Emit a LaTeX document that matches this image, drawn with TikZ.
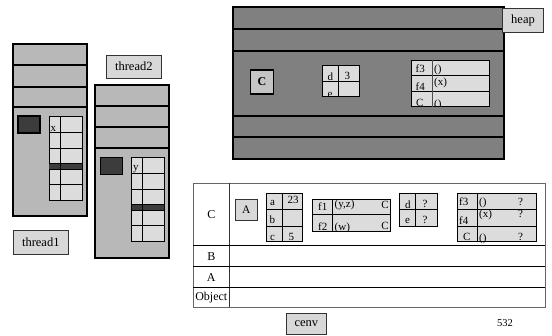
\documentclass[tikz,border=0pt]{standalone}
\usepackage{fontspec}
\setmainfont{Liberation Serif}
\definecolor{tgray}{HTML}{B8B8B8}
\definecolor{cellc}{HTML}{DCDCDC}
\definecolor{darkc}{HTML}{3C3C3C}
\definecolor{heapc}{HTML}{808080}
\definecolor{labc}{HTML}{D8D8D8}
\definecolor{cboxc}{HTML}{C4C4C4}
\begin{document}
\begin{tikzpicture}[x=1pt,y=-1pt,
  frame/.style={draw=black,line width=1.8pt},
  divline/.style={draw=black,line width=1.8pt},
  cellbox/.style={draw=black,line width=0.9pt,fill=cellc},
  gline/.style={draw=black,line width=0.9pt},
  darksq/.style={draw=black,line width=1.2pt,fill=darkc},
  lab/.style={draw=black!80,line width=0.8pt,fill=labc,inner sep=0pt,font=\fontsize{12.5}{14}\selectfont},
  bigtxt/.style={inner sep=0pt,font=\fontsize{12}{14}\selectfont},
  txt/.style={inner sep=0pt,anchor=base west,font=\fontsize{11}{12}\selectfont},
  rtxt/.style={inner sep=0pt,anchor=base east,font=\fontsize{11}{12}\selectfont}
]
\useasboundingbox (0,0) rectangle (552,335);

% ---------- thread 1 ----------
\draw[frame,fill=tgray] (12.7,44) rectangle (87,215.7);
\foreach \yy in {65,86.7,106.7} \draw[divline] (12.7,\yy) -- (87,\yy);
\draw[darksq] (18,116) rectangle (40,133);
\draw[cellbox] (49,116.7) rectangle (82,200);
\fill[darkc] (49,163.3) rectangle (82,169);
\draw[gline] (60,116.7) -- (60,200);
\foreach \yy in {132.3,148.3,163.3,169,184} \draw[gline] (49,\yy) -- (82,\yy);
\node[txt] (tx) at (50.5,131) {x};

% ---------- thread 2 ----------
\draw[frame,fill=tgray] (95.3,85) rectangle (169.3,257.7);
\foreach \yy in {106,127.3,147.7} \draw[divline] (95.3,\yy) -- (169.3,\yy);
\draw[darksq] (100.7,157.3) rectangle (122.7,174.3);
\draw[cellbox] (131.7,157.7) rectangle (164,241.7);
\fill[darkc] (131.7,204) rectangle (164,210);
\draw[gline] (142.3,157.7) -- (142.3,241.7);
\foreach \yy in {173.3,189,204,210,225.7} \draw[gline] (131.7,\yy) -- (164,\yy);
\node[txt] (ty) at (133,170.5) {y};

% labels
\node[lab,minimum width=55.7pt,minimum height=23.3pt] (thread2) at (133.85,66.65) {thread2};
\node[lab,minimum width=55pt,minimum height=24pt] (thread1) at (40.8,242) {thread1};

% ---------- heap ----------
\draw[frame,fill=heapc] (233.3,7.3) rectangle (504,159.3);
\foreach \yy in {29.3,50.7,116,137.3} \draw[divline] (233.3,\yy) -- (504,\yy);
\node[lab,minimum width=40.6pt,minimum height=24pt] (heap) at (523,20.3) {heap};
\node[draw=black,line width=1.5pt,fill=cboxc,minimum width=22.6pt,minimum height=24pt,inner sep=0pt,font=\fontsize{12}{14}\selectfont\bfseries] (hC) at (262,82) {C};
% d/e grid
\draw[cellbox] (322.3,65) rectangle (359.3,96.7);
\draw[gline] (338.3,65) -- (338.3,96.7);
\draw[gline] (322.3,81) -- (359.3,81);
\node[txt] (hd) at (327.5,80.5) {d};
\node[txt] (h3) at (344.5,79.5) {3};
\begin{scope}
\clip (322.3,81) rectangle (359.3,96.2);
\node[txt] (he) at (327.5,97.5) {e};
\end{scope}
% f3 grid
\draw[cellbox] (411,60) rectangle (489.3,106.7);
\foreach \yy in {75.7,91.7} \draw[gline] (411,\yy) -- (489.3,\yy);
\draw[draw=black!70,line width=1.6pt] (432.3,60) -- (432.3,106.7);
\node[txt] (hf3) at (415.5,72) {f3};
\node[txt] (hf3v) at (434,72) {()};
\node[txt] (hf4) at (415.5,90.5) {f4};
\node[txt] (hf4v) at (434,85) {(x)};
\begin{scope}
\clip (411,91.7) rectangle (489.3,106.2);
\node[txt] (hC2) at (416,106) {C};
\node[txt] (hCv) at (434,107) {()};
\end{scope}

% ---------- cenv table ----------
\draw[draw=black!60,line width=0.8pt,fill=white] (193.3,183.3) rectangle (545,307.3);
\draw[draw=black!80,line width=1pt] (229.3,183.3) -- (229.3,307.3);
\foreach \yy in {245.7,266.7,287.3} \draw[divline,line width=1.5pt] (193.3,\yy) -- (545,\yy);
\node[bigtxt] (rC) at (211.3,215) {C};
\node[bigtxt] (rB) at (211.3,256.5) {B};
\node[bigtxt] (rA) at (211.3,277.3) {A};
\node[bigtxt] (rO) at (211.3,297.5) {Object};

\node[lab,minimum width=22.3pt,minimum height=21.7pt,font=\fontsize{11.5}{14}\selectfont] (cA) at (246.2,209.9) {A};
% abc grid
\draw[cellbox] (266,193.3) rectangle (302.7,241.7);
\draw[gline] (282.3,193.3) -- (282.3,241.7);
\foreach \yy in {209.3,226} \draw[gline] (266,\yy) -- (302.7,\yy);
\node[txt] (ca) at (270,205) {a};
\node[txt] (c23) at (287.5,203.5) {23};
\node[txt] (cb) at (269.5,223.5) {b};
\node[txt] (cc) at (270,240) {c};
\node[txt] (c5) at (288.5,240) {5};
% f1 f2 grid
\draw[cellbox] (312.3,199) rectangle (390.7,231.7);
\draw[gline] (332.7,199) -- (332.7,231.7);
\draw[gline] (312.3,214.3) -- (390.7,214.3);
\node[txt] (cf1) at (318,210) {f1};
\node[txt] (cf1v) at (334.5,207) {(y,z)};
\node[rtxt] (cf1c) at (389,208.5) {C};
\begin{scope}
\clip (312.3,214.3) rectangle (390.7,231.2);
\node[txt] (cf2) at (318,230.5) {f2};
\node[txt] (cf2v) at (334.5,230.5) {(w)};
\node[rtxt] (cf2c) at (389,229) {C};
\end{scope}
% d e ? grid
\draw[cellbox] (399.3,193.3) rectangle (437.3,226);
\draw[gline] (415,193.3) -- (415,226);
\draw[gline] (399.3,209.3) -- (437.3,209.3);
\node[txt] (cd) at (405,208) {d};
\node[txt] (cdq) at (422.5,207) {?};
\node[txt] (ce) at (405,223.5) {e};
\node[txt] (ceq) at (422.5,223) {?};
% f3 f4 C grid
\draw[cellbox] (457.7,193.3) rectangle (536,241);
\draw[gline] (477.3,193.3) -- (477.3,241);
\foreach \yy in {209.3,226} \draw[gline] (457.7,\yy) -- (536,\yy);
\node[txt] (cf3) at (459,205.5) {f3};
\node[txt] (cf3v) at (479,205.5) {()};
\node[txt] (cf3q) at (518,205) {?};
\node[txt] (cf4) at (459,224) {f4};
\node[txt] (cf4v) at (479,217.5) {(x)};
\node[txt] (cf4q) at (518,217) {?};
\node[txt] (cC) at (463,240.5) {C};
\node[txt] (cCv) at (479,241) {()};
\node[txt] (cCq) at (518,240) {?};

% bottom labels
\node[lab,minimum width=39.3pt,minimum height=21pt] (cenv) at (306.3,324) {cenv};
\node[inner sep=0pt,font=\fontsize{10.5}{12}\selectfont] (pg) at (505,323) {532};
\end{tikzpicture}
\end{document}
